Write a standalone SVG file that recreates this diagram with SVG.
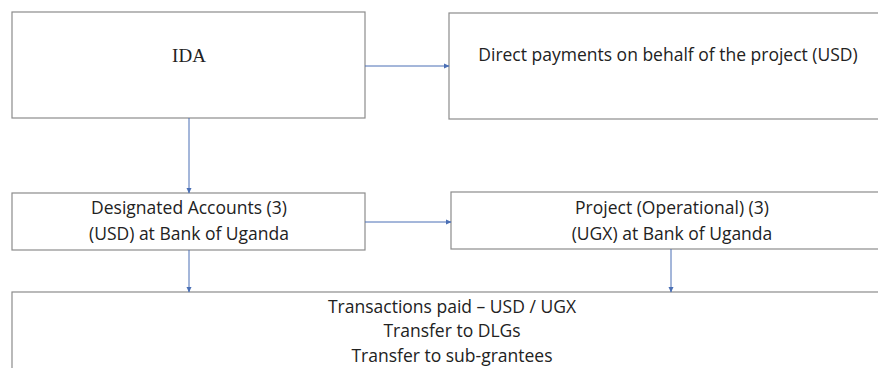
<svg xmlns="http://www.w3.org/2000/svg" width="878" height="368" viewBox="0 0 878 368">
<style>
.box{fill:#fff;stroke:#8c8c8c;stroke-width:1.2}
.t{font-family:"Open Sans","Liberation Sans",sans-serif;font-size:17.5px;fill:#222;text-anchor:middle}
.s{font-family:"Liberation Serif",serif;font-size:19px;fill:#222;text-anchor:middle}
.c{stroke:#4a6fb5;stroke-width:1;fill:none;marker-end:url(#a)}
</style>
<defs>
<marker id="a" markerWidth="6" markerHeight="6" refX="5" refY="3" orient="auto" markerUnits="userSpaceOnUse">
<path d="M0,0.5 L5.5,3 L0,5.5 Z" fill="#4a6fb5"/>
</marker>
</defs>
<rect width="878" height="368" fill="#fff"/>
<g id="ida"><rect class="box" x="12" y="12" width="353" height="106"/><text class="s" x="189" y="62">IDA</text></g>
<g id="direct"><rect class="box" x="449" y="13" width="440" height="106"/><text class="t" x="668" y="61">Direct payments on behalf of the project (USD)</text></g>
<g id="designated"><rect class="box" x="12" y="193" width="353" height="57"/><text class="t" x="189" y="214">Designated Accounts (3)</text><text class="t" x="189" y="240">(USD) at Bank of Uganda</text></g>
<g id="project"><rect class="box" x="451" y="192" width="440" height="57"/><text class="t" x="672" y="214">Project (Operational) (3)</text><text class="t" x="672" y="240">(UGX) at Bank of Uganda</text></g>
<g id="transactions"><rect class="box" x="12" y="292" width="880" height="90"/><text class="t" x="452" y="313">Transactions paid – USD / UGX</text><text class="t" x="452" y="337">Transfer to DLGs</text><text class="t" x="452" y="362">Transfer to sub-grantees</text></g>
<g id="connectors">
<line class="c" x1="365" y1="66" x2="449" y2="66"/>
<line class="c" x1="189" y1="118" x2="189" y2="193"/>
<line class="c" x1="365" y1="222" x2="451" y2="222"/>
<line class="c" x1="189" y1="250" x2="189" y2="292"/>
<line class="c" x1="671" y1="249" x2="671" y2="292"/>
</g>
</svg>
